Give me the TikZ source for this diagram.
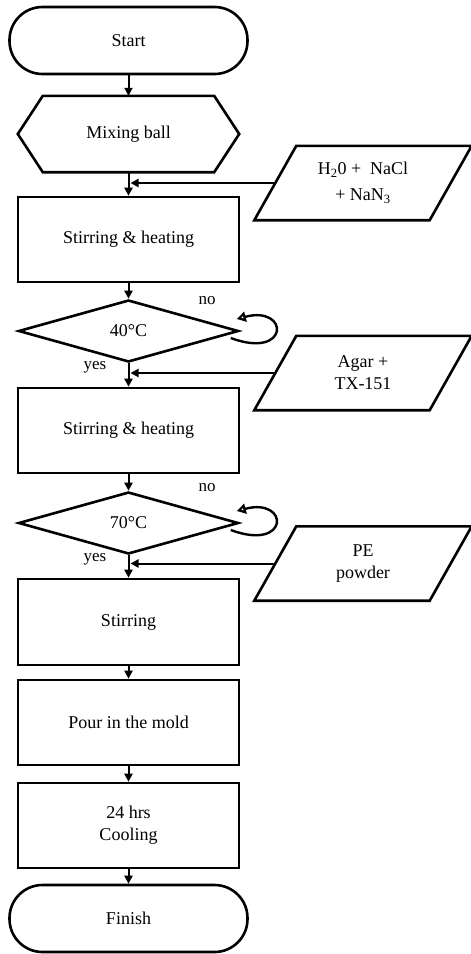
\documentclass[tikz,border=0pt]{standalone}
\usepackage{fontspec}
\setmainfont{Liberation Serif}
\usetikzlibrary{arrows.meta,shapes.geometric}
\begin{document}
\begin{tikzpicture}[x=1pt,y=-1pt,
  every node/.style={font=\fontsize{18}{22}\selectfont, inner sep=0pt},
  shp/.style={line width=2.6pt, line join=miter},
  term/.style={shp, draw, rounded corners=33pt, minimum width=238pt, minimum height=67pt},
  box/.style={shp, draw, minimum width=221pt, minimum height=85pt, align=center},
  dec/.style={shp, draw, diamond, minimum width=220pt, minimum height=62pt},
  slot/.style={minimum width=175pt, minimum height=74pt, align=center},
  hexslot/.style={minimum width=221pt, minimum height=76pt},
  arr/.style={line width=2pt, -{Triangle[length=8pt,width=8pt]}},
  loopar/.style={line width=2.4pt, -{Stealth[length=9pt,width=10pt,inset=0pt,open,fill=none]}},
  lbl/.style={font=\fontsize{17}{20}\selectfont}
]
\useasboundingbox (0,0) rectangle (471,954);
\fill[white] (0,0) rectangle (471,954);

% main column
\node[term] (start) at (128.5,40.5) {Start};
\node[hexslot] (mix) at (128.5,134) {Mixing ball};
\draw[shp] ([xshift=25pt]mix.north west) -- ([xshift=-25pt]mix.north east) -- (mix.east)
  -- ([xshift=-25pt]mix.south east) -- ([xshift=25pt]mix.south west) -- (mix.west) -- cycle;
\node[box] (r1) at (128.5,239.5) {Stirring \& heating};
\node[dec] (d1) at (128.5,331) {40°C};
\node[box] (r2) at (128.5,430.5) {Stirring \& heating};
\node[dec] (d2) at (128.5,523) {70°C};
\node[box, minimum height=86pt] (r3) at (128.5,622) {Stirring};
\node[box] (r4) at (128.5,722.5) {Pour in the mold};
\node[box] (r5) at (128.5,825.5) {24 hrs\\Cooling};
\node[term] (finish) at (128.5,918.5) {Finish};

% inputs
\node[slot] (p1) at (363,183) {H\textsubscript{2}0 +\ \ NaCl\\[4pt] + NaN\textsubscript{3}};
\draw[shp] ([xshift=21pt]p1.north west) -- ([xshift=21pt]p1.north east)
  -- ([xshift=-21pt]p1.south east) -- ([xshift=-21pt]p1.south west) -- cycle;
\node[slot] (p2) at (363,373) {Agar +\\TX-151};
\draw[shp] ([xshift=21pt]p2.north west) -- ([xshift=21pt]p2.north east)
  -- ([xshift=-21pt]p2.south east) -- ([xshift=-21pt]p2.south west) -- cycle;
\node[slot] (p3) at (363,563.5) {PE\\powder};
\draw[shp] ([xshift=21pt]p3.north west) -- ([xshift=21pt]p3.north east)
  -- ([xshift=-21pt]p3.south east) -- ([xshift=-21pt]p3.south west) -- cycle;

% labels
\node[lbl] (no1) at (207,301) {no};
\node[lbl] (yes1) at (95,367) {yes};
\node[lbl] (no2) at (207,488) {no};
\node[lbl] (yes2) at (95,559) {yes};

% connectors
\draw[arr] (start) -- (mix);
\draw[arr] (mix) -- (r1);
\draw[arr] (p1.west) -- ([xshift=2pt]p1.west -| r1.north);
\draw[arr] (r1) -- (d1);
\draw[arr] (d1) -- (r2);
\draw[arr] (p2.west) -- ([xshift=2pt]p2.west -| r2.north);
\draw[arr] (r2) -- (d2);
\draw[arr] (d2) -- (r3);
\draw[arr] (p3.west) -- ([xshift=2pt]p3.west -| r3.north);
\draw[arr] (r3) -- (r4);
\draw[arr] (r4) -- (r5);
\draw[arr] (r5) -- (finish);

% loops
\draw[loopar] ([shift={(-9,7)}]d1.east) .. controls +(59,22) and +(53,-14) .. ([shift={(-3,-12)}]d1.east);
\draw[loopar] ([shift={(-9,7)}]d2.east) .. controls +(59,22) and +(53,-14) .. ([shift={(-3,-12)}]d2.east);
\end{tikzpicture}
\end{document}
